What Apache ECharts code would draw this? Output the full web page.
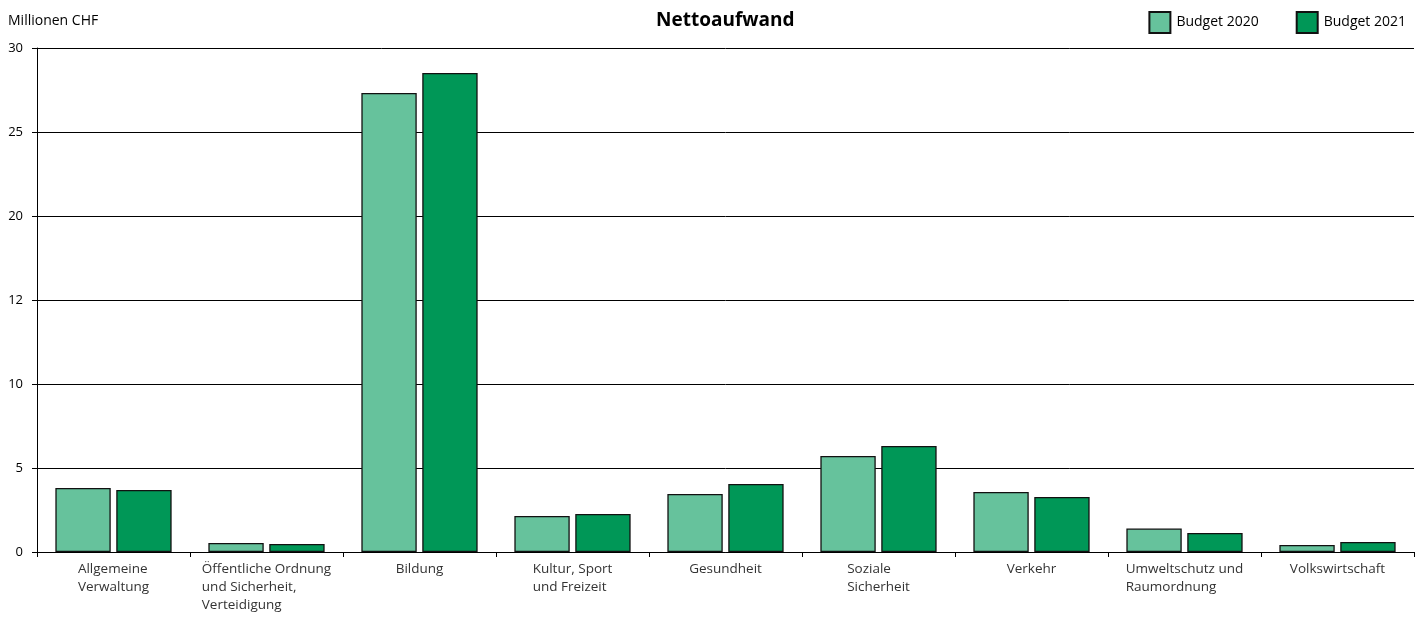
<!DOCTYPE html>
<html><head><meta charset="utf-8">
<script src="https://cdn.jsdelivr.net/npm/echarts@6/dist/echarts.min.js"></script>
<style>html,body{margin:0;padding:0;background:#fff}#c{width:1426px;height:617px}</style>
</head><body><div id="c"></div>
<script>
const categories = [
  'Allgemeine\nVerwaltung',
  'Öffentliche Ordnung\nund Sicherheit,\nVerteidigung',
  'Bildung',
  'Kultur, Sport\nund Freizeit',
  'Gesundheit',
  'Soziale\nSicherheit',
  'Verkehr',
  'Umweltschutz und\nRaumordnung',
  'Volkswirtschaft'
];
const budget2020 = [3.81, 0.54, 27.32, 2.14, 3.45, 5.71, 3.57, 1.40, 0.42];
const budget2021 = [3.69, 0.48, 28.51, 2.26, 4.05, 6.31, 3.27, 1.13, 0.60];
const yTickLabels = ['0', '5', '10', '12', '20', '25', '30'];
const seriesNames = ['Budget 2020', 'Budget 2021'];
const title = 'Nettoaufwand';
const unitLabel = 'Millionen CHF';

const FONT = '"Open Sans", "DejaVu Sans", sans-serif';
const chart = echarts.init(document.getElementById('c'));
chart.setOption({
  animation: false,
  textStyle: { fontFamily: FONT },
  title: [
    { text: title, left: 651, top: 6, textStyle: { fontFamily: FONT, fontSize: 19, fontWeight: 'bold', color: '#000' } },
    { text: unitLabel, left: 3, top: 9, textStyle: { fontFamily: FONT, fontSize: 14, fontWeight: 'normal', color: '#000' } }
  ],
  legend: {
    right: 15, top: 6, itemWidth: 21, itemHeight: 21, itemGap: 37, icon: 'rect',
    textStyle: { fontFamily: FONT, fontSize: 14, color: '#000', padding: [0, 0, 0, 1] }
  },
  grid: { left: 37, right: 12, top: 48, bottom: 65 },
  xAxis: {
    type: 'category', data: categories,
    axisLine: { lineStyle: { color: '#000', width: 1 } },
    axisTick: { show: true, length: 5, lineStyle: { color: '#000' } },
    axisLabel: {
      interval: 0, margin: 8, color: '#333', fontSize: 13.5, fontFamily: FONT, lineHeight: 18,
      formatter: v => v.split('\n').map(s => '{l|' + s + '}').join('\n'),
      rich: { l: { align: 'left', fontSize: 13.5, lineHeight: 18, color: '#333', fontFamily: FONT } }
    }
  },
  yAxis: {
    type: 'value', min: 0, max: 30, interval: 5,
    axisLine: { show: true, lineStyle: { color: '#000', width: 1 } },
    axisTick: { show: true, length: 5, lineStyle: { color: '#000' } },
    axisLabel: { color: '#000', fontSize: 13, fontFamily: FONT, margin: 14,
      formatter: v => yTickLabels[Math.round(v / 5)] },
    splitLine: { show: true, lineStyle: { color: '#000', width: 1 } }
  },
  series: [
    { name: seriesNames[0], type: 'bar', data: budget2020, barGap: '10%', barCategoryGap: '24%',
      itemStyle: { color: '#66C29C', borderColor: '#111', borderWidth: 1.3 } },
    { name: seriesNames[1], type: 'bar', data: budget2021,
      itemStyle: { color: '#009757', borderColor: '#111', borderWidth: 1.3 } }
  ]
});
</script></body></html>
